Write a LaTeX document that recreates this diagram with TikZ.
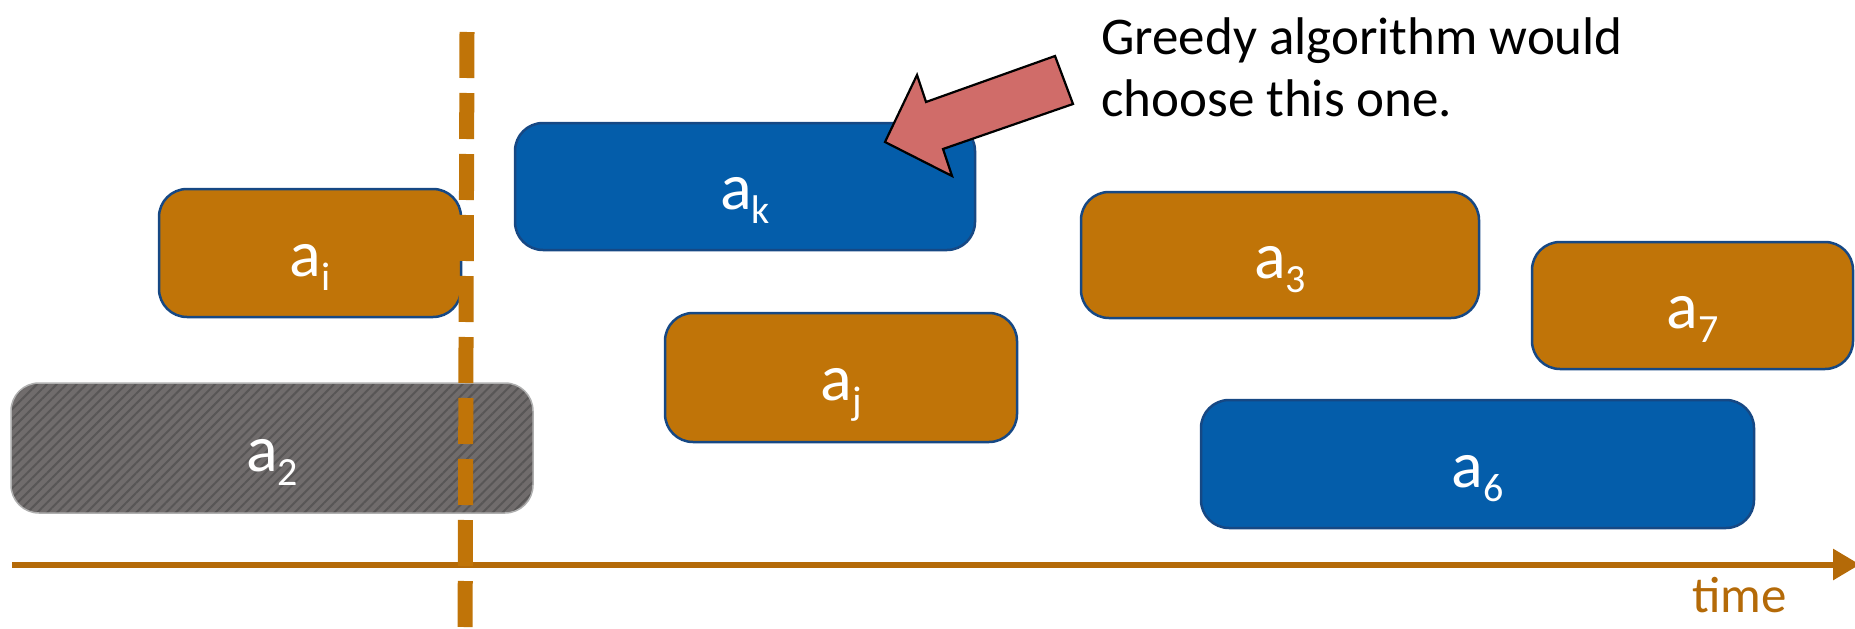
\documentclass[tikz,border=0pt]{standalone}
\usepackage{fontspec}
\setmainfont{Carlito}
\usetikzlibrary{arrows.meta,patterns.meta}
\definecolor{boxorange}{RGB}{192,116,8}
\definecolor{boxblue}{RGB}{4,93,170}
\definecolor{boxedge}{RGB}{22,72,132}
\definecolor{axisbrown}{RGB}{180,106,8}
\definecolor{arrowred}{RGB}{208,108,105}
\definecolor{greybox}{RGB}{112,108,108}
\definecolor{greystripe}{RGB}{88,86,86}
\definecolor{greyedge}{RGB}{175,175,175}
\newcommand\actlab[1]{a\raisebox{-14pt}{\fontsize{40}{40}\selectfont #1}}
\begin{document}
\begin{tikzpicture}[x=1pt,y=-1pt,
  slot/.style={rectangle, inner sep=0pt, outer sep=0pt},
  act/.style={line width=2.5pt, draw=boxedge, rounded corners=28pt},
  orangeact/.style={act, fill=boxorange},
  blueact/.style={act, fill=boxblue},
  greyact/.style={rounded corners=28pt, line width=1.5pt, draw=greyedge,
    preaction={fill=greybox},
    pattern={Lines[angle=45,distance=7pt,line width=2pt]}, pattern color=greystripe},
  lab/.style={anchor=base, text=white, font=\fontsize{66}{70}\selectfont, inner sep=0pt},
  note/.style={anchor=base west, align=left, inner sep=0pt, font=\fontsize{53}{62}\selectfont},
  timetext/.style={anchor=base west, inner sep=0pt, text=axisbrown, font=\fontsize{51}{55}\selectfont},
  axis/.style={line width=6pt, draw=axisbrown, -{Triangle[length=27pt,width=30pt]}},
  dashline/.style={line width=15pt, draw=boxorange, dash pattern=on 46pt off 15pt},
  callout/.style={fill=arrowred, draw=black, line width=2.2pt, line join=miter}
]
\useasboundingbox (0,0) rectangle (1855,629);

% activity slots (named), then their rounded boxes
\node[slot, minimum width=302pt, minimum height=128pt] (ai) at (310,253) {};
\node[slot, minimum width=460pt, minimum height=127pt] (ak) at (745,186.5) {};
\node[slot, minimum width=398pt, minimum height=126pt] (a3) at (1280,255) {};
\node[slot, minimum width=321pt, minimum height=127pt] (a7) at (1692.5,305.5) {};
\node[slot, minimum width=352pt, minimum height=129pt] (aj) at (841,377.5) {};
\node[slot, minimum width=553pt, minimum height=128pt] (a6) at (1477.5,464) {};
\node[slot, minimum width=522pt, minimum height=130pt] (a2) at (272,448) {};

\draw[orangeact] (ai.north west) rectangle (ai.south east);
\draw[blueact]   (ak.north west) rectangle (ak.south east);
\draw[orangeact] (a3.north west) rectangle (a3.south east);
\draw[orangeact] (a7.north west) rectangle (a7.south east);
\draw[orangeact] (aj.north west) rectangle (aj.south east);
\draw[blueact]   (a6.north west) rectangle (a6.south east);
\draw[greyact]   (a2.north west) rectangle (a2.south east);

% labels
\node[lab] (lai) at ([yshift=-23pt]ai.center) {\actlab{i}};
\node[lab] (lak) at ([yshift=-23pt]ak.center) {\actlab{k}};
\node[lab] (la3) at ([yshift=-23pt]a3.center) {\actlab{3}};
\node[lab] (la7) at ([yshift=-23pt]a7.center) {\actlab{7}};
\node[lab] (laj) at ([yshift=-23pt]aj.center) {\actlab{j}};
\node[lab] (la6) at ([yshift=-23pt]a6.center) {\actlab{6}};
\node[lab] (la2) at ([yshift=-23pt]a2.center) {\actlab{2}};

% callout text and block arrow
\node[note] (greedy) at (1101,116) {Greedy algorithm would\\choose this one.};
\coordinate (tip) at (885,142);
\coordinate (headtop) at (917,75);
\coordinate (innertop) at (926,102);
\coordinate (shafttop) at (1055,56);
\coordinate (shaftbot) at (1073,104);
\coordinate (innerbot) at (943,149);
\coordinate (headbot) at (952,176);
\draw[callout] (tip) -- (headtop) -- (innertop) -- (shafttop) -- (shaftbot) -- (innerbot) -- (headbot) -- cycle;

% time axis
\coordinate (tstart) at (12,564.5);
\coordinate (tend) at (1860,564.5);
\draw[axis] (tstart) -- (tend);
\node[timetext] (time) at (1692,612) {time};

% dashed cut line
\coordinate (dtop) at (467,32);
\coordinate (dbot) at (465,660);
\draw[dashline] (dtop) -- (dbot);
\end{tikzpicture}
\end{document}
